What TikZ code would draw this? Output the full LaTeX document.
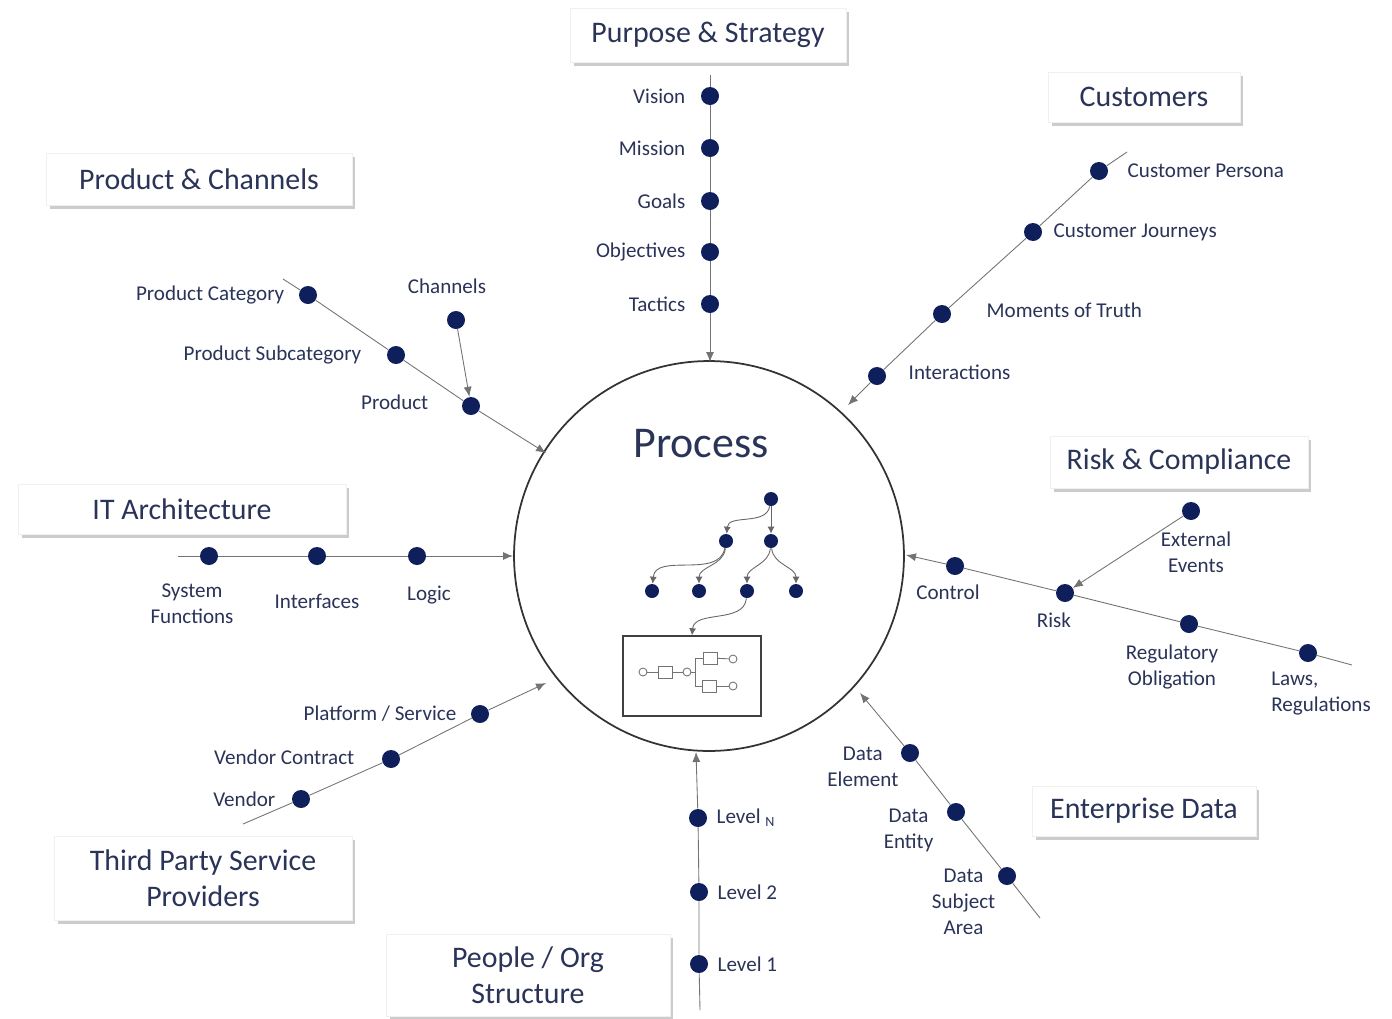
\documentclass[tikz,border=0pt]{standalone}
\usepackage{fontspec}
\setmainfont{Carlito}
\usetikzlibrary{arrows.meta, positioning, shadows}
\definecolor{navy}{HTML}{0E1F5B}
\definecolor{ink}{HTML}{2A3358}
\tikzset{
  topic/.style={draw=black!6, fill=white, drop shadow={shadow xshift=0.07cm, shadow yshift=-0.08cm, fill=black!40}, text=ink, font=\fontsize{17}{20.5}\selectfont, align=center, inner sep=0pt},
  dot/.style={circle, fill=navy, inner sep=0pt, minimum size=0.36cm},
  lbl/.style={text=ink, font=\fontsize{12}{14.8}\selectfont, inner sep=0pt, align=center},
  axis/.style={draw=black!55, line width=0.5pt},
  tip/.style={-{Latex[length=0.2cm, width=0.16cm]}},
  tdot/.style={circle, fill=navy, inner sep=0pt, minimum size=0.28cm},
  tree/.style={draw=black!60, line width=0.5pt, -{Latex[length=0.14cm, width=0.14cm]}},
  bpmn/.style={draw=black!55, line width=0.5pt, inner sep=0pt}
}

\begin{document}
\begin{tikzpicture}[x=0.02cm, y=-0.02cm]
    \useasboundingbox (0,0) rectangle (1392,1018);

    % the process in the middle
    \node [circle, draw=black!80, line width=1pt, minimum size=7.8cm, inner sep=0pt] (proc) at (709,556) {};
    \node [text=ink, font=\fontsize{25}{30}\selectfont] (proctitle) at (701,444) {Process};
    \node [tdot] (t0) at (771,499) {};
    \node [tdot] (t1) at (726,541) {};
    \node [tdot] (t2) at (771,541) {};
    \node [tdot] (t3) at (652,591) {};
    \node [tdot] (t4) at (699,591) {};
    \node [tdot] (t5) at (747,591) {};
    \node [tdot] (t6) at (796,591) {};
    \node [draw=black!75, line width=0.8pt, minimum width=2.76cm, minimum height=1.6cm, inner sep=0pt] (flow) at (692,676) {};
    \draw [tree] (t0) to [out=-100, in=85] (t1);
    \draw [tree] (t0) -- (t2);
    \draw [tree] (t1) to [out=-100, in=85] (t3);
    \draw [tree] (t1) to [out=-95, in=90] (t4);
    \draw [tree] (t2) to [out=-95, in=90] (t5);
    \draw [tree] (t2) to [out=-85, in=90] (t6);
    \draw [tree] (t5) to [out=-95, in=85] (flow.north);
    \node [bpmn, circle, minimum size=0.16cm] (b0) at (643,672) {};
    \node [bpmn, minimum width=0.28cm, minimum height=0.24cm] (b1) at (665,672) {};
    \node [bpmn, circle, minimum size=0.16cm] (b2) at (687,672) {};
    \node [bpmn, minimum width=0.28cm, minimum height=0.24cm] (b3) at (710,658) {};
    \node [bpmn, circle, minimum size=0.16cm] (b4) at (733,659) {};
    \node [bpmn, minimum width=0.28cm, minimum height=0.24cm] (b5) at (709,686) {};
    \node [bpmn, circle, minimum size=0.16cm] (b6) at (733,686) {};
    \coordinate (bsplit) at (695,672);
    \draw [bpmn] (b0) -- (b1);
    \draw [bpmn] (b1) -- (b2);
    \draw [bpmn] (b2) -- (bsplit) |- (b3);
    \draw [bpmn] (bsplit) |- (b5);
    \draw [bpmn] (b3) -- (b4);
    \draw [bpmn] (b5) -- (b6);

    % purpose & strategy
    \node [topic, minimum width=5.52cm, minimum height=1.08cm] (purpose) at (708,35) {Purpose \& Strategy};
    \coordinate (ps-top) at (710,75);
    \coordinate (ps-in) at (710,362);
    \node [dot] (vis) at (710,96) {};
    \node [dot] (mis) at (710,148) {};
    \node [dot] (goa) at (710,201) {};
    \node [dot] (obj) at (710,252) {};
    \node [dot] (tac) at (710,304) {};
    \node [lbl, left=0.3cm of vis] {Vision};
    \node [lbl, left=0.3cm of mis] {Mission};
    \node [lbl, left=0.3cm of goa] {Goals};
    \node [lbl, left=0.3cm of obj] {Objectives};
    \node [lbl, left=0.3cm of tac] {Tactics};
    \draw [axis, tip] (ps-top) -- (vis) -- (mis) -- (goa) -- (obj) -- (tac) -- (ps-in);

    % customers
    \node [topic, minimum width=3.84cm, minimum height=1cm] (customers) at (1144,97) {Customers};
    \coordinate (cu-top) at (1127,152);
    \coordinate (cu-in) at (848,405);
    \node [dot] (cp) at (1099,171) {};
    \node [dot] (cj) at (1033,232) {};
    \node [dot] (mt) at (942,314) {};
    \node [dot] (ia) at (877,376) {};
    \node [lbl, right=0.38cm of cp] {Customer Persona};
    \node [lbl, right=0.22cm of cj] {Customer Journeys};
    \node [lbl, right=0.7cm of mt, yshift=0.08cm] {Moments of Truth};
    \node [lbl, right=0.44cm of ia, yshift=0.08cm] {Interactions};
    \draw [axis, tip] (cu-top) -- (cp) -- (cj) -- (mt) -- (ia) -- (cu-in);

    % product & channels
    \node [topic, minimum width=6.12cm, minimum height=1.04cm] (product) at (199,179) {Product \& Channels};
    \coordinate (pc-top) at (283,279);
    \coordinate (pc-in) at (546,453);
    \node [dot] (pcat) at (308,295) {};
    \node [dot] (psub) at (396,355) {};
    \node [dot] (prod) at (471,406) {};
    \node [dot] (chan) at (456,320) {};
    \node [lbl, left=0.28cm of pcat] {Product Category};
    \node [lbl, left=0.5cm of psub] {Product Subcategory};
    \node [lbl, left=0.66cm of prod, yshift=0.08cm] {Product};
    \node [lbl, above=0.34cm of chan, xshift=-0.18cm] {Channels};
    \draw [axis, tip] (pc-top) -- (pcat) -- (psub) -- (prod) -- (pc-in);
    \draw [axis, tip] (chan) -- (prod);

    % IT architecture
    \node [topic, minimum width=6.56cm, minimum height=1cm] (itarch) at (182,509) {IT Architecture};
    \coordinate (it-left) at (178,556);
    \coordinate (it-in) at (513,556);
    \node [dot] (sysf) at (209,556) {};
    \node [dot] (intf) at (317,556) {};
    \node [dot] (logic) at (417,556) {};
    \node [lbl, below=0.36cm of sysf, xshift=-0.34cm] {System\\Functions};
    \node [lbl, below=0.56cm of intf] {Interfaces};
    \node [lbl, below=0.4cm of logic, xshift=0.24cm] {Logic};
    \draw [axis, tip] (it-left) -- (sysf) -- (intf) -- (logic) -- (it-in);

    % risk & compliance
    \node [topic, minimum width=5.16cm, minimum height=1.04cm] (risk) at (1179,462) {Risk \& Compliance};
    \coordinate (rc-end) at (1352,665);
    \coordinate (rc-in) at (906,555);
    \node [dot] (laws) at (1308,653) {};
    \node [dot] (regob) at (1189,624) {};
    \node [dot] (rsk) at (1065,593) {};
    \node [dot] (ctrl) at (955,566) {};
    \node [dot] (ext) at (1191,511) {};
    \node [lbl, below=0.18cm of ctrl, xshift=-0.14cm] {Control};
    \node [lbl, below=0.2cm of rsk, xshift=-0.22cm] {Risk};
    \node [lbl, below=0.22cm of regob, xshift=-0.34cm] {Regulatory\\Obligation};
    \node [lbl, below=0.18cm of laws, xshift=0.26cm, align=left] {Laws,\\Regulations};
    \node [lbl, below=0.22cm of ext, xshift=0.1cm] {External\\Events};
    \draw [axis, tip] (rc-end) -- (laws) -- (regob) -- (rsk) -- (ctrl) -- (rc-in);
    \draw [axis, tip] (ext) -- (rsk);

    % enterprise data
    \node [topic, minimum width=4.48cm, minimum height=1cm] (entdata) at (1144,811) {Enterprise Data};
    \coordinate (ed-end) at (1040,918);
    \coordinate (ed-in) at (860,693);
    \node [dot] (dsa) at (1007,876) {};
    \node [dot] (dent) at (956,812) {};
    \node [dot] (delem) at (910,753) {};
    \node [lbl, left=0.04cm of delem, yshift=-0.28cm] {Data\\Element};
    \node [lbl, left=0.26cm of dent, yshift=-0.36cm] {Data\\Entity};
    \node [lbl, left=0.04cm of dsa, yshift=-0.52cm] {Data\\Subject\\Area};
    \draw [axis, tip] (ed-end) -- (dsa) -- (dent) -- (delem) -- (ed-in);

    % people / org structure
    \node [topic, minimum width=5.68cm, minimum height=1.64cm] (people) at (528,975) {People / Org\\Structure};
    \coordinate (po-end) at (700,1010);
    \coordinate (po-in) at (696,752);
    \node [dot] (lone) at (699,964) {};
    \node [dot] (ltwo) at (699,892) {};
    \node [dot] (lnn) at (698,818) {};
    \node [lbl, right=0.18cm of lone] {Level 1};
    \node [lbl, right=0.18cm of ltwo] {Level 2};
    \node [lbl, right=0.18cm of lnn] {Level~\textsubscript{N}};
    \draw [axis, tip] (po-end) -- (lone) -- (ltwo) -- (lnn) -- (po-in);

    % third party service providers
    \node [topic, minimum width=5.96cm, minimum height=1.68cm] (thirdparty) at (203,878) {Third Party Service\\Providers};
    \coordinate (tp-end) at (243,824);
    \coordinate (tp-in) at (546,683);
    \node [dot] (vend) at (301,799) {};
    \node [dot] (vcon) at (391,759) {};
    \node [dot] (plat) at (480,714) {};
    \node [lbl, left=0.32cm of vend] {Vendor};
    \node [lbl, left=0.54cm of vcon, yshift=0.04cm] {Vendor Contract};
    \node [lbl, left=0.28cm of plat] {Platform / Service};
    \draw [axis, tip] (tp-end) -- (vend) -- (vcon) -- (plat) -- (tp-in);
\end{tikzpicture}
\end{document}
